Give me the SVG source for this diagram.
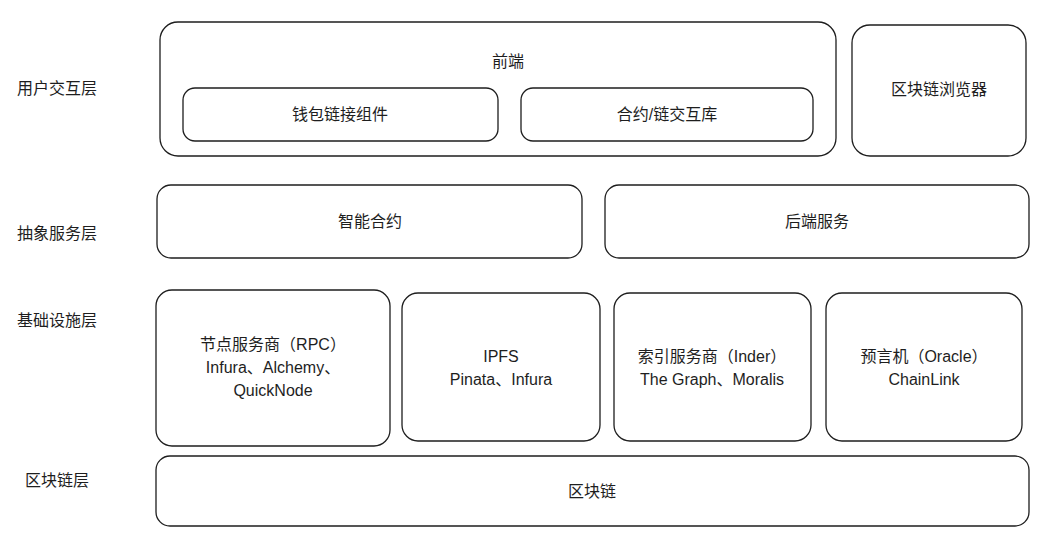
<svg xmlns="http://www.w3.org/2000/svg" width="1052" height="550" viewBox="0 0 1052 550">
<style>
.b{fill:#fff;stroke:#1e1e1e;stroke-width:1.3}
text{font-family:"Liberation Sans","Noto Sans CJK SC",sans-serif;font-size:16px;fill:#1e1e1e;text-anchor:middle}
</style>
<rect width="1052" height="550" fill="#fff"/>
<g id="labels">
<text x="57" y="94">用户交互层</text>
<text x="57" y="239">抽象服务层</text>
<text x="57" y="326">基础设施层</text>
<text x="57" y="486">区块链层</text>
</g>
<g id="frontend"><rect class="b" x="160" y="22" width="676" height="134" rx="18"/><text x="508" y="67">前端</text></g>
<g id="wallet"><rect class="b" x="183" y="88" width="315" height="53" rx="12"/><text x="340" y="120">钱包链接组件</text></g>
<g id="contractlib"><rect class="b" x="521" y="88" width="292" height="53" rx="12"/><text x="667" y="120">合约/链交互库</text></g>
<g id="explorer"><rect class="b" x="852" y="25" width="174" height="131" rx="18"/><text x="939" y="95">区块链浏览器</text></g>
<g id="contract"><rect class="b" x="157" y="185" width="425" height="73" rx="14"/><text x="370" y="227">智能合约</text></g>
<g id="backend"><rect class="b" x="605" y="185" width="424" height="73" rx="14"/><text x="817" y="227">后端服务</text></g>
<g id="rpc"><rect class="b" x="156" y="290" width="234" height="156" rx="16"/><text x="273" y="350">节点服务商（RPC）</text><text x="273" y="373">Infura、Alchemy、</text><text x="273" y="396">QuickNode</text></g>
<g id="ipfs"><rect class="b" x="402" y="293" width="198" height="148" rx="16"/><text x="501" y="362">IPFS</text><text x="501" y="385">Pinata、Infura</text></g>
<g id="index"><rect class="b" x="614" y="293" width="197" height="148" rx="16"/><text x="712" y="362">索引服务商（Inder）</text><text x="712" y="385">The Graph、Moralis</text></g>
<g id="oracle"><rect class="b" x="826" y="293" width="196" height="148" rx="16"/><text x="924" y="362">预言机（Oracle）</text><text x="924" y="385">ChainLink</text></g>
<g id="chain"><rect class="b" x="156" y="456" width="873" height="70" rx="14"/><text x="592" y="497">区块链</text></g>
<g id="connectors"/>
</svg>
